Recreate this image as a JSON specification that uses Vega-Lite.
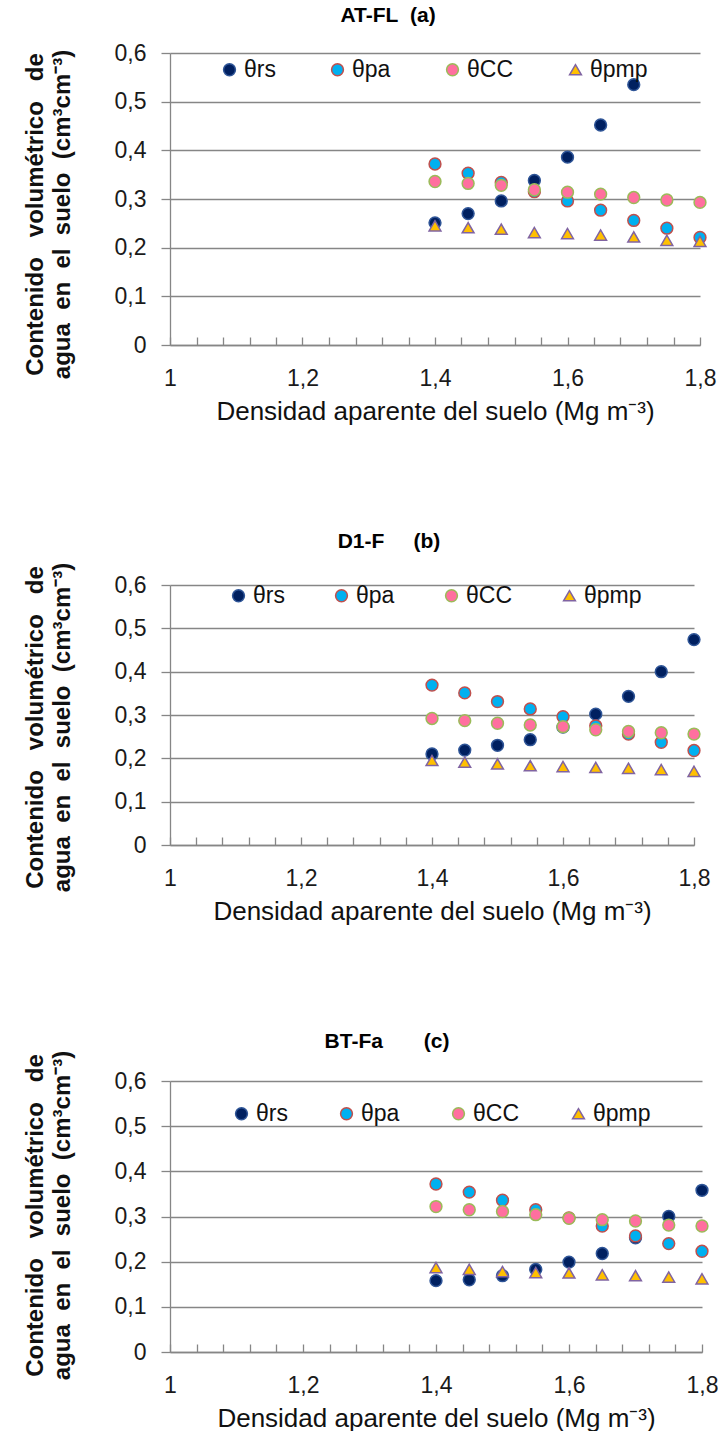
{
  "$schema": "https://vega.github.io/schema/vega-lite/v6.json",
  "background": "white",
  "padding": {"top": 5, "left": 22, "right": 0, "bottom": 0},
  "spacing": 107,
  "resolve": {
    "scale": {"fill": "independent", "stroke": "independent", "shape": "independent"},
    "legend": {"fill": "independent", "stroke": "independent", "shape": "independent"}
  },
  "config": {
    "view": {"stroke": null},
    "font": "Liberation Sans",
    "axis": {
      "domainColor": "#868686", "domainWidth": 1.3,
      "tickColor": "#868686", "tickWidth": 1.3,
      "gridColor": "#868686", "gridWidth": 1.3,
      "labelFont": "Liberation Sans", "labelFontSize": 23, "labelColor": "#1a1a1a",
      "titleFont": "Liberation Sans", "titleColor": "#111111",
      "labelOverlap": false, "labelFlush": false
    },
    "legend": {
      "labelFont": "Liberation Sans", "labelFontSize": 23, "labelColor": "#111111"
    }
  },
  "datasets": {
    "atfl": [
      {"d": 1.4, "v": 0.251, "s": "θrs"}, {"d": 1.45, "v": 0.270, "s": "θrs"}, {"d": 1.5, "v": 0.296, "s": "θrs"},
      {"d": 1.55, "v": 0.338, "s": "θrs"}, {"d": 1.6, "v": 0.386, "s": "θrs"}, {"d": 1.65, "v": 0.452, "s": "θrs"},
      {"d": 1.7, "v": 0.535, "s": "θrs"},
      {"d": 1.4, "v": 0.372, "s": "θpa"}, {"d": 1.45, "v": 0.353, "s": "θpa"}, {"d": 1.5, "v": 0.334, "s": "θpa"},
      {"d": 1.55, "v": 0.315, "s": "θpa"}, {"d": 1.6, "v": 0.296, "s": "θpa"}, {"d": 1.65, "v": 0.277, "s": "θpa"},
      {"d": 1.7, "v": 0.256, "s": "θpa"}, {"d": 1.75, "v": 0.240, "s": "θpa"}, {"d": 1.8, "v": 0.221, "s": "θpa"},
      {"d": 1.4, "v": 0.336, "s": "θCC"}, {"d": 1.45, "v": 0.332, "s": "θCC"}, {"d": 1.5, "v": 0.328, "s": "θCC"},
      {"d": 1.55, "v": 0.319, "s": "θCC"}, {"d": 1.6, "v": 0.314, "s": "θCC"}, {"d": 1.65, "v": 0.310, "s": "θCC"},
      {"d": 1.7, "v": 0.303, "s": "θCC"}, {"d": 1.75, "v": 0.298, "s": "θCC"}, {"d": 1.8, "v": 0.293, "s": "θCC"},
      {"d": 1.4, "v": 0.245, "s": "θpmp"}, {"d": 1.45, "v": 0.241, "s": "θpmp"}, {"d": 1.5, "v": 0.238, "s": "θpmp"},
      {"d": 1.55, "v": 0.231, "s": "θpmp"}, {"d": 1.6, "v": 0.229, "s": "θpmp"}, {"d": 1.65, "v": 0.226, "s": "θpmp"},
      {"d": 1.7, "v": 0.222, "s": "θpmp"}, {"d": 1.75, "v": 0.215, "s": "θpmp"}, {"d": 1.8, "v": 0.213, "s": "θpmp"}
    ],
    "d1f": [
      {"d": 1.4, "v": 0.210, "s": "θrs"}, {"d": 1.45, "v": 0.219, "s": "θrs"}, {"d": 1.5, "v": 0.230, "s": "θrs"},
      {"d": 1.55, "v": 0.243, "s": "θrs"}, {"d": 1.6, "v": 0.272, "s": "θrs"}, {"d": 1.65, "v": 0.302, "s": "θrs"},
      {"d": 1.7, "v": 0.343, "s": "θrs"}, {"d": 1.75, "v": 0.400, "s": "θrs"}, {"d": 1.8, "v": 0.474, "s": "θrs"},
      {"d": 1.4, "v": 0.369, "s": "θpa"}, {"d": 1.45, "v": 0.351, "s": "θpa"}, {"d": 1.5, "v": 0.331, "s": "θpa"},
      {"d": 1.55, "v": 0.314, "s": "θpa"}, {"d": 1.6, "v": 0.296, "s": "θpa"}, {"d": 1.65, "v": 0.275, "s": "θpa"},
      {"d": 1.7, "v": 0.256, "s": "θpa"}, {"d": 1.75, "v": 0.237, "s": "θpa"}, {"d": 1.8, "v": 0.218, "s": "θpa"},
      {"d": 1.4, "v": 0.292, "s": "θCC"}, {"d": 1.45, "v": 0.287, "s": "θCC"}, {"d": 1.5, "v": 0.281, "s": "θCC"},
      {"d": 1.55, "v": 0.277, "s": "θCC"}, {"d": 1.6, "v": 0.273, "s": "θCC"}, {"d": 1.65, "v": 0.266, "s": "θCC"},
      {"d": 1.7, "v": 0.262, "s": "θCC"}, {"d": 1.75, "v": 0.259, "s": "θCC"}, {"d": 1.8, "v": 0.256, "s": "θCC"},
      {"d": 1.4, "v": 0.195, "s": "θpmp"}, {"d": 1.45, "v": 0.191, "s": "θpmp"}, {"d": 1.5, "v": 0.187, "s": "θpmp"},
      {"d": 1.55, "v": 0.183, "s": "θpmp"}, {"d": 1.6, "v": 0.181, "s": "θpmp"}, {"d": 1.65, "v": 0.179, "s": "θpmp"},
      {"d": 1.7, "v": 0.177, "s": "θpmp"}, {"d": 1.75, "v": 0.174, "s": "θpmp"}, {"d": 1.8, "v": 0.170, "s": "θpmp"}
    ],
    "btfa": [
      {"d": 1.4, "v": 0.158, "s": "θrs"}, {"d": 1.45, "v": 0.160, "s": "θrs"}, {"d": 1.5, "v": 0.169, "s": "θrs"},
      {"d": 1.55, "v": 0.183, "s": "θrs"}, {"d": 1.6, "v": 0.199, "s": "θrs"}, {"d": 1.65, "v": 0.218, "s": "θrs"},
      {"d": 1.7, "v": 0.253, "s": "θrs"}, {"d": 1.75, "v": 0.300, "s": "θrs"}, {"d": 1.8, "v": 0.358, "s": "θrs"},
      {"d": 1.4, "v": 0.372, "s": "θpa"}, {"d": 1.45, "v": 0.354, "s": "θpa"}, {"d": 1.5, "v": 0.336, "s": "θpa"},
      {"d": 1.55, "v": 0.315, "s": "θpa"}, {"d": 1.6, "v": 0.297, "s": "θpa"}, {"d": 1.65, "v": 0.279, "s": "θpa"},
      {"d": 1.7, "v": 0.257, "s": "θpa"}, {"d": 1.75, "v": 0.240, "s": "θpa"}, {"d": 1.8, "v": 0.223, "s": "θpa"},
      {"d": 1.4, "v": 0.322, "s": "θCC"}, {"d": 1.45, "v": 0.315, "s": "θCC"}, {"d": 1.5, "v": 0.311, "s": "θCC"},
      {"d": 1.55, "v": 0.304, "s": "θCC"}, {"d": 1.6, "v": 0.296, "s": "θCC"}, {"d": 1.65, "v": 0.293, "s": "θCC"},
      {"d": 1.7, "v": 0.290, "s": "θCC"}, {"d": 1.75, "v": 0.281, "s": "θCC"}, {"d": 1.8, "v": 0.279, "s": "θCC"},
      {"d": 1.4, "v": 0.187, "s": "θpmp"}, {"d": 1.45, "v": 0.183, "s": "θpmp"}, {"d": 1.5, "v": 0.178, "s": "θpmp"},
      {"d": 1.55, "v": 0.176, "s": "θpmp"}, {"d": 1.6, "v": 0.175, "s": "θpmp"}, {"d": 1.65, "v": 0.171, "s": "θpmp"},
      {"d": 1.7, "v": 0.169, "s": "θpmp"}, {"d": 1.75, "v": 0.166, "s": "θpmp"}, {"d": 1.8, "v": 0.162, "s": "θpmp"}
    ]
  },
  "vconcat": [
    {
      "width": 530, "height": 292,
      "data": {"name": "atfl"},
      "title": {"text": "AT-FL\u00a0\u00a0(a)", "anchor": "middle", "frame": "group", "dx": -47, "offset": 16,
                "font": "Liberation Sans", "fontSize": 21, "fontWeight": "bold", "color": "#000000"},
      "mark": {"type": "point", "filled": true, "size": 140, "strokeWidth": 1.5, "opacity": 1},
      "encoding": {
        "x": {"field": "d", "type": "quantitative",
              "scale": {"domain": [1, 1.8], "nice": false, "zero": false},
              "axis": {"values": [1,1.04,1.08,1.12,1.16,1.2,1.24,1.28,1.32,1.36,1.4,1.44,1.48,1.52,1.56,1.6,1.64,1.68,1.72,1.76,1.8],
                       "tickSize": -8, "labelPadding": 30, "grid": false,
                       "labelExpr": "abs(datum.value*5 - round(datum.value*5)) < 0.001 ? (datum.value == 1 ? '1' : replace(format(datum.value, '.1f'), '.', ',')) : ''",
                       "title": "Densidad aparente del suelo (Mg m⁻³)", "titleFontSize": 26, "titleFontWeight": "normal", "titlePadding": 8}},
        "y": {"field": "v", "type": "quantitative",
              "scale": {"domain": [0, 0.6], "nice": false},
              "axis": {"values": [0, 0.1, 0.2, 0.3, 0.4, 0.5, 0.6], "grid": true, "tickSize": 9, "labelPadding": 15,
                       "labelExpr": "datum.value == 0 ? '0' : replace(format(datum.value, '.1f'), '.', ',')",
                       "title": ["Contenido\u00a0\u00a0\u00a0volumétrico\u00a0\u00a0\u00a0de", "agua\u00a0\u00a0en\u00a0\u00a0el\u00a0\u00a0suelo\u00a0\u00a0(cm³cm⁻³)"],
                       "titleFontSize": 24, "titleFontWeight": "bold", "titleAngle": -90, "titleAlign": "center",
                       "titleBaseline": "top", "titleLineHeight": 27, "titleX": -147, "titleY": 161}},
        "fill": {"field": "s", "type": "nominal",
                 "scale": {"domain": ["θrs", "θpa", "θCC", "θpmp"], "range": ["#002060", "#00B0F0", "#FF6F9F", "#FFC000"]},
                 "legend": {"orient": "none", "legendX": 48, "legendY": 5, "direction": "horizontal", "title": null,
                            "padding": 0, "columnPadding": 50, "labelOffset": 3, "symbolSize": 140, "symbolStrokeWidth": 1.5}},
        "stroke": {"field": "s", "type": "nominal",
                   "scale": {"domain": ["θrs", "θpa", "θCC", "θpmp"], "range": ["#2F5597", "#C0504D", "#9BBB59", "#8064A2"]},
                   "legend": {"orient": "none", "legendX": 48, "legendY": 5, "direction": "horizontal", "title": null,
                              "padding": 0, "columnPadding": 50, "labelOffset": 3, "symbolSize": 140, "symbolStrokeWidth": 1.5}},
        "shape": {"field": "s", "type": "nominal",
                  "scale": {"domain": ["θrs", "θpa", "θCC", "θpmp"], "range": ["circle", "circle", "circle", "triangle-up"]},
                  "legend": {"orient": "none", "legendX": 48, "legendY": 5, "direction": "horizontal", "title": null,
                             "padding": 0, "columnPadding": 50, "labelOffset": 3, "symbolSize": 140, "symbolStrokeWidth": 1.5}}
      }
    },
    {
      "width": 524, "height": 260,
      "data": {"name": "d1f"},
      "title": {"text": "D1-F\u00a0\u00a0\u00a0\u00a0\u00a0(b)", "anchor": "middle", "frame": "group", "dx": -43, "offset": 10,
                "font": "Liberation Sans", "fontSize": 21, "fontWeight": "bold", "color": "#000000"},
      "mark": {"type": "point", "filled": true, "size": 140, "strokeWidth": 1.5, "opacity": 1},
      "encoding": {
        "x": {"field": "d", "type": "quantitative",
              "scale": {"domain": [1, 1.8], "nice": false, "zero": false},
              "axis": {"values": [1,1.04,1.08,1.12,1.16,1.2,1.24,1.28,1.32,1.36,1.4,1.44,1.48,1.52,1.56,1.6,1.64,1.68,1.72,1.76,1.8],
                       "tickSize": -8, "labelPadding": 30, "grid": false,
                       "labelExpr": "abs(datum.value*5 - round(datum.value*5)) < 0.001 ? (datum.value == 1 ? '1' : replace(format(datum.value, '.1f'), '.', ',')) : ''",
                       "title": "Densidad aparente del suelo (Mg m⁻³)", "titleFontSize": 26, "titleFontWeight": "normal", "titlePadding": 8}},
        "y": {"field": "v", "type": "quantitative",
              "scale": {"domain": [0, 0.6], "nice": false},
              "axis": {"values": [0, 0.1, 0.2, 0.3, 0.4, 0.5, 0.6], "grid": true, "tickSize": 9, "labelPadding": 15,
                       "labelExpr": "datum.value == 0 ? '0' : replace(format(datum.value, '.1f'), '.', ',')",
                       "title": ["Contenido\u00a0\u00a0\u00a0volumétrico\u00a0\u00a0\u00a0de", "agua\u00a0\u00a0en\u00a0\u00a0el\u00a0\u00a0suelo\u00a0\u00a0(cm³cm⁻³)"],
                       "titleFontSize": 24, "titleFontWeight": "bold", "titleAngle": -90, "titleAlign": "center",
                       "titleBaseline": "top", "titleLineHeight": 27, "titleX": -147, "titleY": 142}},
        "fill": {"field": "s", "type": "nominal",
                 "scale": {"domain": ["θrs", "θpa", "θCC", "θpmp"], "range": ["#002060", "#00B0F0", "#FF6F9F", "#FFC000"]},
                 "legend": {"orient": "none", "legendX": 57, "legendY": -1, "direction": "horizontal", "title": null,
                            "padding": 0, "columnPadding": 45, "labelOffset": 3, "symbolSize": 140, "symbolStrokeWidth": 1.5}},
        "stroke": {"field": "s", "type": "nominal",
                   "scale": {"domain": ["θrs", "θpa", "θCC", "θpmp"], "range": ["#2F5597", "#C0504D", "#9BBB59", "#8064A2"]},
                   "legend": {"orient": "none", "legendX": 57, "legendY": -1, "direction": "horizontal", "title": null,
                              "padding": 0, "columnPadding": 45, "labelOffset": 3, "symbolSize": 140, "symbolStrokeWidth": 1.5}},
        "shape": {"field": "s", "type": "nominal",
                  "scale": {"domain": ["θrs", "θpa", "θCC", "θpmp"], "range": ["circle", "circle", "circle", "triangle-up"]},
                  "legend": {"orient": "none", "legendX": 57, "legendY": -1, "direction": "horizontal", "title": null,
                             "padding": 0, "columnPadding": 45, "labelOffset": 3, "symbolSize": 140, "symbolStrokeWidth": 1.5}}
      }
    },
    {
      "width": 532, "height": 271,
      "data": {"name": "btfa"},
      "title": {"text": "BT-Fa\u00a0\u00a0\u00a0\u00a0\u00a0\u00a0\u00a0(c)", "anchor": "middle", "frame": "group", "dx": -49, "offset": -2,
                "font": "Liberation Sans", "fontSize": 21, "fontWeight": "bold", "color": "#000000"},
      "mark": {"type": "point", "filled": true, "size": 140, "strokeWidth": 1.5, "opacity": 1},
      "encoding": {
        "x": {"field": "d", "type": "quantitative",
              "scale": {"domain": [1, 1.8], "nice": false, "zero": false},
              "axis": {"values": [1,1.04,1.08,1.12,1.16,1.2,1.24,1.28,1.32,1.36,1.4,1.44,1.48,1.52,1.56,1.6,1.64,1.68,1.72,1.76,1.8],
                       "tickSize": -8, "labelPadding": 30, "grid": false,
                       "labelExpr": "abs(datum.value*5 - round(datum.value*5)) < 0.001 ? (datum.value == 1 ? '1' : replace(format(datum.value, '.1f'), '.', ',')) : ''",
                       "title": "Densidad aparente del suelo (Mg m⁻³)", "titleFontSize": 26, "titleFontWeight": "normal", "titlePadding": 8}},
        "y": {"field": "v", "type": "quantitative",
              "scale": {"domain": [0, 0.6], "nice": false},
              "axis": {"values": [0, 0.1, 0.2, 0.3, 0.4, 0.5, 0.6], "grid": true, "tickSize": 9, "labelPadding": 15,
                       "labelExpr": "datum.value == 0 ? '0' : replace(format(datum.value, '.1f'), '.', ',')",
                       "title": ["Contenido\u00a0\u00a0\u00a0volumétrico\u00a0\u00a0\u00a0de", "agua\u00a0\u00a0en\u00a0\u00a0el\u00a0\u00a0suelo\u00a0\u00a0(cm³cm⁻³)"],
                       "titleFontSize": 24, "titleFontWeight": "bold", "titleAngle": -90, "titleAlign": "center",
                       "titleBaseline": "top", "titleLineHeight": 27, "titleX": -147, "titleY": 134}},
        "fill": {"field": "s", "type": "nominal",
                 "scale": {"domain": ["θrs", "θpa", "θCC", "θpmp"], "range": ["#002060", "#00B0F0", "#FF6F9F", "#FFC000"]},
                 "legend": {"orient": "none", "legendX": 60, "legendY": 21, "direction": "horizontal", "title": null,
                            "padding": 0, "columnPadding": 47, "labelOffset": 3, "symbolSize": 140, "symbolStrokeWidth": 1.5}},
        "stroke": {"field": "s", "type": "nominal",
                   "scale": {"domain": ["θrs", "θpa", "θCC", "θpmp"], "range": ["#2F5597", "#C0504D", "#9BBB59", "#8064A2"]},
                   "legend": {"orient": "none", "legendX": 60, "legendY": 21, "direction": "horizontal", "title": null,
                              "padding": 0, "columnPadding": 47, "labelOffset": 3, "symbolSize": 140, "symbolStrokeWidth": 1.5}},
        "shape": {"field": "s", "type": "nominal",
                  "scale": {"domain": ["θrs", "θpa", "θCC", "θpmp"], "range": ["circle", "circle", "circle", "triangle-up"]},
                  "legend": {"orient": "none", "legendX": 60, "legendY": 21, "direction": "horizontal", "title": null,
                             "padding": 0, "columnPadding": 47, "labelOffset": 3, "symbolSize": 140, "symbolStrokeWidth": 1.5}}
      }
    }
  ]
}
